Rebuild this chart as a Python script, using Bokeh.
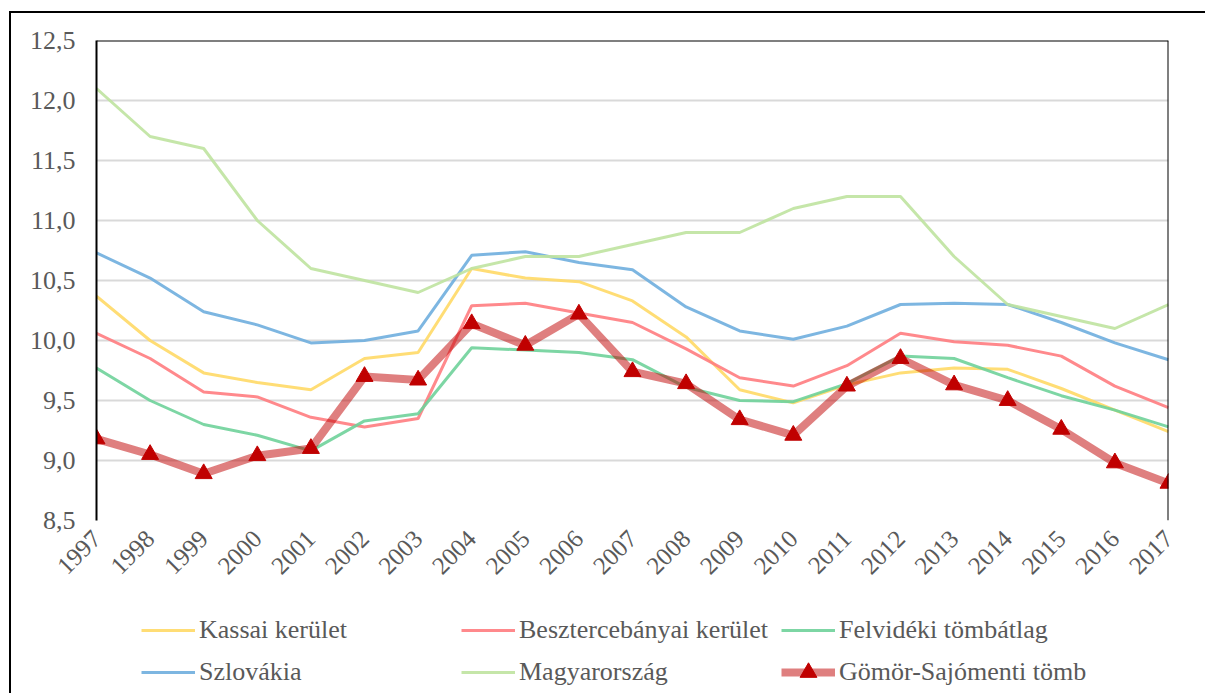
from bokeh.plotting import figure
from bokeh.layouts import column
from bokeh.models import Range1d, FixedTicker, Span, Legend, LegendItem
from bokeh.embed import file_html
from bokeh.resources import INLINE

years = list(range(1997, 2018))

kassai = [10.37, 10.00, 9.73, 9.65, 9.59, 9.85, 9.90, 10.60, 10.52, 10.49, 10.33,
          10.03, 9.59, 9.48, 9.63, 9.73, 9.77, 9.76, 9.60, 9.42, 9.24]
beszterce = [10.06, 9.85, 9.57, 9.53, 9.36, 9.28, 9.35, 10.29, 10.31, 10.23, 10.15,
             9.93, 9.69, 9.62, 9.79, 10.06, 9.99, 9.96, 9.87, 9.62, 9.44]
felvideki = [9.77, 9.50, 9.30, 9.21, 9.08, 9.33, 9.39, 9.94, 9.92, 9.90, 9.84,
             9.61, 9.50, 9.49, 9.64, 9.87, 9.85, 9.69, 9.54, 9.42, 9.28]
szlovakia = [10.73, 10.52, 10.24, 10.13, 9.98, 10.00, 10.08, 10.71, 10.74, 10.65, 10.59,
             10.28, 10.08, 10.01, 10.12, 10.30, 10.31, 10.30, 10.15, 9.98, 9.84]
magyar = [12.10, 11.70, 11.60, 11.00, 10.60, 10.50, 10.40, 10.60, 10.70, 10.70, 10.80,
          10.90, 10.90, 11.10, 11.20, 11.20, 10.70, 10.30, 10.20, 10.10, 10.30]
gomor = [9.18, 9.05, 8.89, 9.04, 9.10, 9.70, 9.67, 10.14, 9.96, 10.22, 9.74,
         9.64, 9.34, 9.21, 9.62, 9.85, 9.63, 9.50, 9.26, 8.98, 8.81]

names = ["Kassai kerület", "Besztercebányai kerület", "Felvidéki tömbátlag",
         "Szlovákia", "Magyarország", "Gömör-Sajómenti tömb"]

y_ticks = [8.5, 9.0, 9.5, 10.0, 10.5, 11.0, 11.5, 12.0, 12.5]
y_tick_labels = ["8,5", "9,0", "9,5", "10,0", "10,5", "11,0", "11,5", "12,0", "12,5"]

FONT = "Liberation Serif"
TXT = "#595959"
colors = ["#FFD966", "#FF7C80", "#6FD29A", "#6FAEDE", "#BFE3A0"]
series = [kassai, beszterce, felvideki, szlovakia, magyar]

# ---- main chart ----
p = figure(width=1196, height=587, output_backend="svg", toolbar_location=None,
           x_range=Range1d(1997, 2017), y_range=Range1d(8.5, 12.5),
           min_border_left=85, min_border_right=39, min_border_top=27,
           min_border_bottom=80, outline_line_color=None)
p.styles = {"border-left": "2px solid black", "border-top": "2px solid black"}

p.xgrid.grid_line_color = None
p.ygrid.grid_line_color = "#D9D9D9"
p.ygrid.grid_line_width = 2
p.yaxis.ticker = FixedTicker(ticks=y_ticks)
p.yaxis.major_label_overrides = {t: l for t, l in zip(y_ticks, y_tick_labels)}
p.xaxis.ticker = FixedTicker(ticks=years)
p.xaxis.major_label_overrides = {y: str(y) for y in years}
p.xaxis.major_label_orientation = 0.785398

for ax in (p.xaxis[0], p.yaxis[0]):
    ax.major_tick_line_color = None
    ax.minor_tick_line_color = None
    ax.major_label_text_font = FONT
    ax.major_label_text_color = TXT
p.yaxis.major_label_text_font_size = "26px"
p.xaxis.major_label_text_font_size = "25px"
p.xaxis.axis_line_color = None
p.yaxis.axis_line_color = "black"
p.yaxis.axis_line_width = 2
p.yaxis.major_label_standoff = 15
p.xaxis.major_label_standoff = 8

p.add_layout(Span(location=12.5, dimension="width", line_color="black", line_width=2))
p.add_layout(Span(location=2017, dimension="height", line_color="black", line_width=2))

for vals, col in zip(series, colors):
    p.line(years, vals, line_color=col, line_width=3, line_alpha=0.9)
p.line(years, gomor, line_color="#C00000", line_alpha=0.5, line_width=8)
p.scatter(years, gomor, marker="triangle", size=17, fill_color="#C00000",
          line_color="#C00000")

# ---- legend strip (legend swatches only; their points lie outside the view) ----
q = figure(width=1196, height=95, output_backend="svg", toolbar_location=None,
           x_range=Range1d(0, 1), y_range=Range1d(0, 1),
           x_axis_location=None, y_axis_location=None,
           min_border_left=0, min_border_right=0, min_border_top=0,
           min_border_bottom=0, outline_line_color=None)
q.grid.visible = False
q.styles = {"border-left": "2px solid black"}

off = [-5, -4]
items = []
for name, col in zip(names[:5], colors):
    r = q.line(off, off, line_color=col, line_width=3, line_alpha=0.9)
    items.append(LegendItem(label=name, renderers=[r]))
gl = q.line(off, off, line_color="#C00000", line_alpha=0.5, line_width=8)
gm = q.scatter(off, off, marker="triangle", size=17, fill_color="#C00000",
               line_color="#C00000")
items.append(LegendItem(label=names[5], renderers=[gl, gm]))

legend = Legend(items=items, ncols=3, orientation="horizontal",
                location=(45, 0), border_line_color=None,
                background_fill_alpha=0,
                label_text_font=FONT, label_text_color=TXT,
                label_text_font_size="26px", glyph_width=54, glyph_height=42,
                label_height=42, label_width=262, label_standoff=4, spacing=0,
                padding=0, margin=0)
q.add_layout(legend, "center")

layout = column(p, q, spacing=0, styles={"margin-left": "9px", "margin-top": "11px"})
open("out.html", "w").write(file_html(layout, INLINE))
